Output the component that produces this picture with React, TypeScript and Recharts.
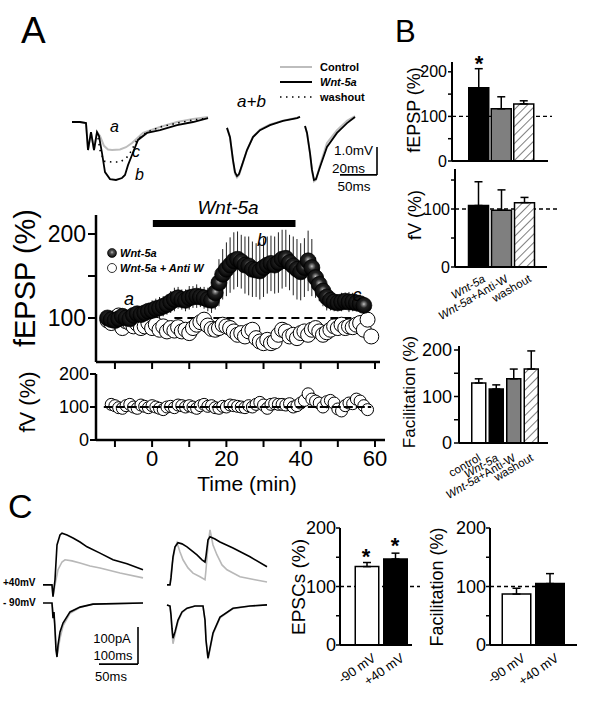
import React from 'react';
import {
  LineChart,
  Line,
  ScatterChart,
  Scatter,
  BarChart,
  Bar,
  Cell,
  XAxis,
  YAxis,
  ErrorBar,
  ReferenceLine,
} from 'recharts';

const FONT = '"Liberation Sans", Arial, sans-serif';

// ---------- A: single fEPSP traces (ms, mV) ----------
const wntTraceMs = [0, 4, 7, 8, 9.5, 11, 12.5, 13.5, 15, 16.5, 19, 22, 25, 26.5, 28, 30, 33, 37.5, 44, 52.5, 60.5, 68];
const wntTraceMv = [0, 0, -0.04, -1.0, -0.36, -1.0, -0.36, -0.5, -1.11, -1.79, -2.04, -2.07, -2.0, -1.89, -1.54, -1.18, -0.64, -0.39, -0.29, -0.11, 0, 0.14];
const ctrlTraceMs = [0, 4, 7, 8, 9.5, 11, 12.5, 14, 16, 18, 20, 24, 27, 30, 35.5, 44, 52.5, 60.5, 68];
const ctrlTraceMv = [0, 0, -0.04, -1.0, -0.36, -1.0, -0.36, -0.5, -0.85, -0.98, -1.0, -0.98, -0.9, -0.75, -0.39, -0.18, 0, 0.11, 0.18];
const washTraceMs = [12.5, 14, 16, 20, 24, 27, 29, 32.5, 37.5, 44, 52.5, 60.5, 68];
const washTraceMv = [-0.36, -1.0, -1.4, -1.43, -1.43, -1.3, -1.11, -0.64, -0.36, -0.18, -0.04, 0.07, 0.14];

// paired pulse (a+b)
const pairMs = [0, 1.5, 2.5, 4, 5.5, 6.5, 7.5, 8.5, 10, 12.5, 15.5, 19, 24, 30.5, 37.5, 39, 40.5, 41.5, 42.5, 44, 45, 46, 47, 49, 52.5, 57.5, 62.5, 66.5];
const pairWntMv = [0.04, null, -0.21, -0.54, -1.36, -1.79, -1.93, -1.86, -1.54, -1.0, -0.54, -0.29, -0.11, 0.04, 0.14, 0.18, null, -0.14, -0.39, -1.11, -1.71, -2.07, -2.04, -1.61, -0.89, -0.39, -0.04, 0.18];
const pairCtrlMv = [0.04, null, -0.21, -0.54, -1.4, -1.85, -1.98, -1.9, -1.56, -1.0, -0.52, -0.27, -0.09, 0.05, 0.15, 0.19, null, -0.14, -0.39, -1.13, -1.75, -2.12, -2.07, -1.55, -0.75, -0.29, 0.04, 0.21];

// ---------- A: time course (% of baseline) ----------
const wntMinutes = [-12, -11, -10, -9, -8, -7, -6, -5, -4, -3, -2, -1, 0, 1, 2, 3, 4, 5, 6, 7, 8, 9, 10, 11, 12, 13, 14, 15, 16, 17, 18, 19, 20, 21, 22, 23, 24, 25, 26, 27, 28, 29, 30, 31, 32, 33, 34, 35, 36, 37, 38, 39, 40, 41, 42, 43, 44, 45, 46, 47, 48, 49, 50, 51, 52, 53, 54, 55, 56, 57];
const wntFepsp = [100, 98, 97, 99, 102, 100, 99, 103, 105, 104, 106, 108, 109, 111, 112, 114, 116, 119, 122, 124, 122, 121, 124, 125, 126, 125, 124, 122, 121, 130, 142, 152, 158, 163, 168, 170, 167, 163, 162, 158, 157, 156, 160, 163, 165, 163, 166, 170, 171, 166, 162, 158, 155, 160, 168, 160, 148, 140, 132, 125, 121, 119, 118, 119, 120, 119, 119, 118, 117, 115];
const wntSem = [8, 8, 7, 8, 9, 8, 8, 9, 8, 9, 10, 10, 12, 12, 13, 12, 12, 13, 14, 13, 12, 13, 14, 13, 14, 12, 13, 14, 15, 20, 28, 30, 32, 33, 34, 33, 32, 34, 35, 33, 32, 34, 35, 34, 33, 34, 36, 35, 34, 33, 35, 36, 34, 35, 36, 34, 24, 20, 18, 16, 12, 11, 10, 11, 10, 12, 11, 10, 11, 10];

const antiMinutes = [-12, -11, -10, -9, -8, -7, -6, -5, -4, -3, -2, -1, 0, 1, 2, 3, 4, 5, 6, 7, 8, 9, 10, 11, 12, 13, 14, 15, 16, 17, 18, 19, 20, 21, 22, 23, 24, 25, 26, 27, 28, 29, 30, 31, 32, 33, 34, 35, 36, 37, 38, 39, 40, 41, 42, 43, 44, 45, 46, 47, 48, 49, 50, 51, 52, 53, 54, 55, 56, 57, 58, 59];
const antiFepsp = [97, 94, 100, 103, 88, 96, 94, 90, 93, 88, 90, 94, 88, 92, 86, 90, 84, 88, 85, 89, 84, 86, 82, 88, 92, 95, 98, 91, 87, 86, 88, 92, 90, 88, 84, 80, 82, 78, 84, 86, 76, 72, 70, 74, 70, 72, 80, 86, 84, 78, 80, 76, 82, 84, 80, 86, 88, 84, 80, 83, 86, 90, 88, 92, 88, 90, 89, 92, 94, 86, 98, 78];
const antiSem = [5, 6, 5, 5, 6, 5, 5, 6, 5, 5, 6, 5, 5, 6, 5, 5, 6, 5, 5, 6, 5, 5, 6, 5, 5, 6, 5, 5, 6, 5, 5, 6, 5, 5, 6, 5, 5, 6, 5, 5, 6, 5, 5, 6, 5, 5, 6, 5, 5, 6, 5, 5, 6, 5, 5, 6, 5, 5, 6, 5, 5, 6, 5, 5, 6, 5, 5, 6, 5, 5, 6, 7];

const fvMinutes = [-11, -10, -9, -8, -7, -6, -5, -4, -3, -2, -1, 0, 1, 2, 3, 4, 5, 6, 7, 8, 9, 10, 11, 12, 13, 14, 15, 16, 17, 18, 19, 20, 21, 22, 23, 24, 25, 26, 27, 28, 29, 30, 31, 32, 33, 34, 35, 36, 37, 38, 39, 40, 41, 42, 43, 44, 45, 46, 47, 48, 49, 50, 51, 52, 53, 54, 55, 56, 57, 58];
const fvPercent = [108, 104, 98, 96, 104, 108, 100, 96, 106, 102, 98, 104, 100, 96, 92, 100, 102, 98, 106, 104, 100, 104, 100, 96, 104, 108, 102, 104, 98, 96, 102, 100, 106, 104, 102, 100, 98, 104, 100, 108, 114, 106, 96, 108, 110, 108, 108, 106, 110, 100, 104, 112, 120, 140, 124, 118, 112, 100, 116, 120, 112, 94, 88, 104, 112, 110, 124, 118, 104, 92];
const fvSem = [5, 6, 5, 6, 5, 6, 5, 6, 5, 6, 5, 6, 5, 6, 5, 6, 5, 6, 5, 6, 5, 6, 5, 6, 5, 6, 5, 6, 5, 6, 5, 6, 5, 6, 5, 6, 5, 6, 5, 6, 5, 6, 5, 6, 5, 6, 5, 6, 5, 6, 5, 6, 5, 10, 6, 5, 6, 5, 6, 5, 6, 5, 6, 5, 6, 5, 6, 5, 6, 8];
const minuteTicks = [-10, 0, 10, 20, 30, 40, 50, 60];

// ---------- B: summary bars ----------
const bGroups = ['Wnt-5a', 'Wnt-5a+Anti-W', 'washout'];
const bFepspMean = [164, 117, 128];
const bFepspSem = [43, 27, 7];
const bFvMean = [106, 98, 111];
const bFvSem = [41, 35, 9];
const facGroups = ['control', 'Wnt-5a', 'Wnt-5a+Anti-W', 'washout'];
const facMean = [129, 116, 138, 159];
const facSem = [9, 9, 21, 39];

// ---------- C: EPSC traces (ms, pA) ----------
const c1PosMs = [0, 22.5, 25, 30, 35, 42.5, 47.5, 60, 75, 92.5, 110, 142.5, 175, 210, 250];
const c1PosWnt = [0, 0, -32, 14, 108, 135, 140, 135, 127, 116, 103, 86, 68, 57, 41];
const c1PosCtrlMs = [22.5, 25, 30, 37.5, 47.5, 55, 72.5, 92.5, 117.5, 142.5, 192.5, 250];
const c1PosCtrl = [0, -32, 0, 41, 62, 68, 65, 59, 51, 46, 32, 19];
const c1NegMs = [0, 22.5, 25, 27.5, 30, 32.5, 35, 37.5, 42.5, 50, 67.5, 92.5, 125, 250];
const c1NegWnt = [0, 0, -41, -24, -73, -127, -146, -114, -78, -54, -24, -11, -3, 0];
const c1NegCtrlMs = [22.5, 30, 32.5, 35, 37.5, 42.5, 50, 67.5, 92.5, 125, 250];
const c1NegCtrl = [0, -60, -115, -140, -128, -95, -62, -28, -12, -3, 0];

const c2PosMs = [5, 12.5, 15, 20, 25, 32.5, 42.5, 55, 67.5, 80, 92.5, 100, 102.5, 107.5, 112.5, 125, 137.5, 170, 212.5, 255];
const c2PosWnt = [0, 0, 19, 76, 103, 114, 111, 103, 92, 81, 68, 62, 78, 122, 130, 124, 116, 100, 76, 49];
const c2PosCtrlMs = [12.5, 17.5, 25, 30, 37.5, 45, 57.5, 70, 87.5, 100, 102.5, 107.5, 112.5, 120, 130, 142.5, 155, 187.5, 225, 255];
const c2PosCtrl = [0, 54, 100, 114, 89, 68, 46, 32, 22, 14, 41, 108, 149, 108, 81, 54, 41, 22, 14, 8];
const c2NegMs = [5, 12.5, 15, 17.5, 20, 25, 32.5, 42.5, 55, 75, 95, 100, 102.5, 107.5, 112.5, 120, 137.5, 170, 212.5, 255];
const c2NegWnt = [-5, -8, -32, -68, -95, -78, -46, -24, -14, -8, -8, -46, -100, -149, -122, -81, -38, -14, -8, -5];
const c2NegCtrl = [-5, -8, -35, -80, -110, -85, -50, -26, -15, -8, -8, -46, -100, -152, -126, -84, -40, -15, -8, -5];

// ---------- C: summary bars ----------
const cHolding = ['-90 mV', '+40 mV'];
const cEpscMean = [134, 147];
const cEpscSem = [7, 10];
const cFacMean = [87, 105];
const cFacSem = [10, 17];

const pts = (xs: number[], ys: (number | null)[]) => xs.map((t, i) => ({ t, v: ys[i] }));
const scat = (xs: number[], ys: number[], es: number[]) => xs.map((t, i) => ({ t, v: ys[i], e: es[i] }));
const bars = (names: string[], m: number[], e: number[]) => names.map((name, i) => ({ name, mean: m[i], err: [0, e[i]] }));

type Box = { x: number; y: number; w: number; h: number; yw: number; xh: number };
function place(b: Box) {
  const pad = { top: 12, right: 12, bottom: 40, left: 0 };
  return {
    style: { position: 'absolute' as const, left: b.x - b.yw, top: b.y - pad.top },
    width: b.yw + b.w + pad.right,
    height: pad.top + b.h + b.xh + pad.bottom,
    margin: pad,
  };
}

const axisLine = (w: number) => ({ stroke: '#000', strokeWidth: w });
const noAnim = { isAnimationActive: false, dot: false, type: 'linear' as const };

const Sphere = (p: any) => (
  <circle cx={p.cx} cy={p.cy} r={8} fill="url(#sphereGrad)" stroke="#000" strokeWidth={0.7} />
);
const ring = (r: number) => (p: any) => <circle cx={p.cx} cy={p.cy} r={r} fill="#fff" stroke="#000" strokeWidth={1} />;

function SlantTick(props: any) {
  const { x, y, payload, dx, dy, size, angle } = props;
  const label = String(payload.value);
  const it = label.startsWith('Wnt-5a');
  return (
    <text transform={`translate(${x + dx},${y + dy}) rotate(${angle})`} textAnchor="end" fontSize={size} fill="#000">
      {it ? (
        <>
          <tspan fontStyle="italic">Wnt-5a</tspan>
          <tspan>{label.slice(6)}</tspan>
        </>
      ) : (
        label
      )}
    </text>
  );
}

function Hatch({ id }: { id: string }) {
  return (
    <defs>
      <pattern id={id} patternUnits="userSpaceOnUse" width={6} height={6} patternTransform="rotate(45)">
        <rect width={6} height={6} fill="#fff" />
        <line x1={0} y1={0} x2={0} y2={6} stroke="#000" strokeWidth={1} />
      </pattern>
    </defs>
  );
}

// dashed 100 % line, drawn in a chart underneath so the bars cover it
function BaseLine100({ box, data, top, lineW }: { box: Box; data: any[]; top: number; lineW: number }) {
  const p = place({ ...box, w: lineW });
  const m = { ...p.margin, left: box.yw, bottom: p.margin.bottom + box.xh };
  return (
    <div style={p.style}>
      <BarChart width={p.width} height={p.height} margin={m} data={data}>
        <XAxis dataKey="name" hide />
        <YAxis type="number" domain={[0, top]} hide allowDataOverflow />
        <ReferenceLine y={100} stroke="#000" strokeWidth={1.3} strokeDasharray="4 3" />
      </BarChart>
    </div>
  );
}

function SummaryBars(props: {
  box: Box; data: any[]; fills: string[]; top: number; size: number; pad: [number, number];
  font: number; tickSize: number; tickMargin: number; hatchId?: string; slant?: any; lineW?: number;
}) {
  const { box, data, fills, top, size, pad, font, tickSize, tickMargin, hatchId, slant, lineW } = props;
  const p = place(box);
  return (
    <>
      {lineW !== undefined && <BaseLine100 box={box} data={data} top={top} lineW={lineW} />}
      <div style={p.style}>
        <BarChart width={p.width} height={p.height} margin={p.margin} data={data} barCategoryGap={0}>
          {hatchId && <Hatch id={hatchId} />}
          <XAxis
            dataKey="name"
            padding={{ left: pad[0], right: pad[1] }}
            height={box.xh}
            tickLine={false}
            tickSize={0}
            tickMargin={0}
            interval={0}
            axisLine={axisLine(2)}
            tick={slant ? (t: any) => <SlantTick {...t} {...slant} /> : false}
          />
          <YAxis
            type="number"
            domain={[0, top]}
            ticks={[0, 50, 100, 150, 200].filter((v) => v <= top)}
            tickFormatter={(v: number) => (v % 100 === 0 ? String(v) : '')}
            width={box.yw}
            tickSize={tickSize}
            tickMargin={tickMargin}
            interval={0}
            tick={{ fontSize: font, fill: '#000' }}
            axisLine={axisLine(2)}
            tickLine={{ stroke: '#000', strokeWidth: 1.5 }}
            allowDataOverflow
          />
          <Bar dataKey="mean" barSize={size} stroke="#000" strokeWidth={1.5} isAnimationActive={false}>
            {data.map((d, i) => (
              <Cell key={d.name} fill={fills[i]} />
            ))}
            <ErrorBar dataKey="err" width={4} stroke="#000" strokeWidth={1.5} direction="y" />
          </Bar>
        </BarChart>
      </div>
    </>
  );
}

const BOX: Record<string, Box> = {
  traceA: { x: 70, y: 105, w: 142, h: 80, yw: 0, xh: 0 },
  pairA: { x: 220, y: 105, w: 162, h: 80, yw: 0, xh: 0 },
  fepsp: { x: 96, y: 215, w: 284, h: 147, yw: 60, xh: 10 },
  fv: { x: 96, y: 374, w: 289, h: 66, yw: 60, xh: 40 },
  bFepsp: { x: 452, y: 62, w: 96, h: 99, yw: 40, xh: 4 },
  bFv: { x: 455, y: 169, w: 92, h: 98, yw: 40, xh: 50 },
  bFac: { x: 459, y: 346, w: 89, h: 97, yw: 40, xh: 60 },
  cTrace1: { x: 40, y: 525, w: 108, h: 145, yw: 0, xh: 0 },
  cTrace2: { x: 160, y: 525, w: 112, h: 145, yw: 0, xh: 0 },
  cEpsc: { x: 340, y: 528, w: 72, h: 117, yw: 36, xh: 50 },
  cFac: { x: 490, y: 528, w: 87, h: 117, yw: 40, xh: 50 },
};

function TraceA() {
  const p = place(BOX.traceA);
  return (
    <div style={p.style}>
      <LineChart width={p.width} height={p.height} margin={p.margin}>
        <XAxis type="number" dataKey="t" domain={[-1, 70]} hide allowDataOverflow />
        <YAxis type="number" domain={[-2.25, 0.607]} hide allowDataOverflow />
        <Line data={pts(ctrlTraceMs, ctrlTraceMv)} dataKey="v" stroke="#bdbdbd" strokeWidth={2} {...noAnim} />
        <Line data={pts(washTraceMs, washTraceMv)} dataKey="v" stroke="#000" strokeWidth={1.6} strokeDasharray="1.5 4.5" {...noAnim} />
        <Line data={pts(wntTraceMs, wntTraceMv)} dataKey="v" stroke="#000" strokeWidth={1.8} {...noAnim} />
      </LineChart>
    </div>
  );
}

function PairA() {
  const p = place(BOX.pairA);
  return (
    <div style={p.style}>
      <LineChart width={p.width} height={p.height} margin={p.margin}>
        <XAxis type="number" dataKey="t" domain={[-1, 80]} hide allowDataOverflow />
        <YAxis type="number" domain={[-2.25, 0.607]} hide allowDataOverflow />
        <Line data={pts(pairMs, pairCtrlMv)} dataKey="v" stroke="#bdbdbd" strokeWidth={2} connectNulls={false} {...noAnim} />
        <Line data={pts(pairMs, pairWntMv)} dataKey="v" stroke="#000" strokeWidth={1.8} connectNulls={false} {...noAnim} />
        {/* scale bar: 1.0 mV / 20 ms */}
        <ReferenceLine segment={[{ x: 77.5, y: -0.89 }, { x: 77.5, y: -1.89 }]} stroke="#000" strokeWidth={1.6} />
        <ReferenceLine segment={[{ x: 59, y: -1.89 }, { x: 77.5, y: -1.89 }]} stroke="#000" strokeWidth={1.6} />
      </LineChart>
    </div>
  );
}

function TimeCourse() {
  const p = place(BOX.fepsp);
  return (
    <div style={p.style}>
      <ScatterChart width={p.width} height={p.height} margin={p.margin}>
        <defs>
          <radialGradient id="sphereGrad" cx="0.5" cy="0.42" r="0.58">
            <stop offset="0%" stopColor="#c4c4c4" />
            <stop offset="16%" stopColor="#7a7a7a" />
            <stop offset="42%" stopColor="#222" />
            <stop offset="100%" stopColor="#000" />
          </radialGradient>
        </defs>
        <XAxis
          type="number"
          dataKey="t"
          domain={[-15.1, 61.35]}
          ticks={minuteTicks}
          tickFormatter={() => ''}
          tickSize={7}
          height={BOX.fepsp.xh}
          interval={0}
          axisLine={axisLine(2.5)}
          tickLine={{ stroke: '#000', strokeWidth: 2 }}
          allowDataOverflow
        />
        <YAxis
          type="number"
          dataKey="v"
          domain={[47.6, 222.6]}
          ticks={[100, 150, 200]}
          tickFormatter={(v: number) => (v === 150 ? '' : String(v))}
          width={BOX.fepsp.yw}
          tickSize={8}
          tickMargin={2}
          interval={0}
          tick={{ fontSize: 23, fill: '#000' }}
          axisLine={axisLine(2.5)}
          tickLine={{ stroke: '#000', strokeWidth: 2 }}
          allowDataOverflow
        />
        <ReferenceLine segment={[{ x: 0.2, y: 212.5 }, { x: 38.6, y: 212.5 }]} stroke="#000" strokeWidth={7} />
        <ReferenceLine segment={[{ x: 6, y: 100 }, { x: 57, y: 100 }]} stroke="#000" strokeWidth={2} strokeDasharray="8 5" />
        <Scatter data={scat(antiMinutes, antiFepsp, antiSem)} dataKey="v" shape={ring(7.5)} isAnimationActive={false}>
          <ErrorBar dataKey="e" direction="y" width={0} stroke="#555" strokeWidth={1} />
        </Scatter>
        <Scatter data={scat(wntMinutes, wntFepsp, wntSem)} dataKey="v" shape={Sphere} isAnimationActive={false}>
          <ErrorBar dataKey="e" direction="y" width={0} stroke="#222" strokeWidth={1} />
        </Scatter>
      </ScatterChart>
    </div>
  );
}

const fvTimeAxis = {
  type: 'number' as const,
  dataKey: 't',
  domain: [-15.1, 62.7] as [number, number],
  allowDataOverflow: true,
};

function FiberVolley() {
  const p = place(BOX.fv);
  return (
    <div style={p.style}>
      <ScatterChart width={p.width} height={p.height} margin={p.margin}>
        <XAxis
          {...fvTimeAxis}
          ticks={minuteTicks}
          tickFormatter={(v: number) => (v % 20 === 0 ? String(v) : '')}
          tickSize={7}
          tickMargin={3}
          height={BOX.fv.xh}
          interval={0}
          tick={{ fontSize: 22, fill: '#000' }}
          axisLine={axisLine(2.5)}
          tickLine={{ stroke: '#000', strokeWidth: 2 }}
        />
        <YAxis
          type="number"
          dataKey="v"
          domain={[0, 200]}
          ticks={[0, 100, 200]}
          width={BOX.fv.yw}
          tickSize={6}
          tickMargin={1}
          interval={0}
          tick={{ fontSize: 18, fill: '#000' }}
          axisLine={axisLine(2.5)}
          tickLine={{ stroke: '#000', strokeWidth: 2 }}
          allowDataOverflow
        />
        <Scatter data={scat(fvMinutes, fvPercent, fvSem)} dataKey="v" shape={ring(6)} isAnimationActive={false}>
          <ErrorBar dataKey="e" direction="y" width={0} stroke="#555" strokeWidth={1} />
        </Scatter>
      </ScatterChart>
    </div>
  );
}

// the 100 % line of the fV panel runs over the circles, so it sits in a chart on top
function FiberVolleyLine() {
  const p = place(BOX.fv);
  const m = { ...p.margin, left: BOX.fv.yw, bottom: p.margin.bottom + BOX.fv.xh };
  return (
    <div style={p.style}>
      <ScatterChart width={p.width} height={p.height} margin={m}>
        <XAxis {...fvTimeAxis} hide />
        <YAxis type="number" dataKey="v" domain={[0, 200]} hide allowDataOverflow />
        <ReferenceLine segment={[{ x: -13, y: 100 }, { x: 59, y: 100 }]} stroke="#000" strokeWidth={1.8} strokeDasharray="9 3" />
      </ScatterChart>
    </div>
  );
}

function CTrace(props: { box: Box; domain: [number, number]; children?: React.ReactNode }) {
  const p = place(props.box);
  return (
    <div style={p.style}>
      <LineChart width={p.width} height={p.height} margin={p.margin}>
        <XAxis type="number" dataKey="t" domain={props.domain} hide allowDataOverflow />
        <YAxis yAxisId="pos" type="number" domain={[-230, 162]} hide allowDataOverflow />
        <YAxis yAxisId="neg" type="number" domain={[-181, 211]} hide allowDataOverflow />
        {props.children}
      </LineChart>
    </div>
  );
}

function Overlay() {
  const t = { fill: '#000' };
  return (
    <svg width={600} height={714} style={{ position: 'absolute', left: 0, top: 0, pointerEvents: 'none' }} fontFamily={FONT}>
      <defs>
        <radialGradient id="legendSphere" cx="0.5" cy="0.42" r="0.6">
          <stop offset="0%" stopColor="#bbb" />
          <stop offset="30%" stopColor="#555" />
          <stop offset="100%" stopColor="#000" />
        </radialGradient>
      </defs>
      <text x={21} y={43} fontSize={37} {...t}>A</text>
      <text x={395} y={42} fontSize={31} {...t}>B</text>
      <text x={8} y={518} fontSize={34} {...t}>C</text>

      {/* trace legend */}
      <line x1={280} y1={67} x2={312} y2={67} stroke="#bdbdbd" strokeWidth={2} />
      <text x={320} y={67} fontSize={11} fontWeight="bold" dominantBaseline="central">Control</text>
      <line x1={280} y1={82} x2={312} y2={82} stroke="#000" strokeWidth={2} />
      <text x={320} y={82} fontSize={11} fontWeight="bold" fontStyle="italic" dominantBaseline="central">Wnt-5a</text>
      <line x1={280} y1={97} x2={312} y2={97} stroke="#000" strokeWidth={1.6} strokeDasharray="1.5 4.5" />
      <text x={320} y={97} fontSize={11} fontWeight="bold" dominantBaseline="central">washout</text>
      <text x={237} y={107} fontSize={17} fontStyle="italic">a+b</text>
      <text x={110} y={132} fontSize={16} fontStyle="italic">a</text>
      <text x={132} y={157} fontSize={16} fontStyle="italic">c</text>
      <text x={135} y={180} fontSize={16} fontStyle="italic">b</text>
      <text x={373} y={150} fontSize={13.5} textAnchor="end" dominantBaseline="central">1.0mV</text>
      <text x={365} y={168} fontSize={13.5} textAnchor="end" dominantBaseline="central">20ms</text>
      <text x={354} y={186} fontSize={13.5} textAnchor="middle" dominantBaseline="central">50ms</text>

      {/* time course annotations */}
      <text x={228} y={207} fontSize={19} fontStyle="italic" textAnchor="middle" dominantBaseline="central">Wnt-5a</text>
      <circle cx={112} cy={253} r={4.5} fill="url(#legendSphere)" stroke="#000" strokeWidth={0.6} />
      <text x={120} y={253} fontSize={11} fontWeight="bold" fontStyle="italic" dominantBaseline="central">Wnt-5a</text>
      <circle cx={112} cy={268} r={4.5} fill="#fff" stroke="#000" strokeWidth={0.8} />
      <text x={120} y={268} fontSize={11} fontWeight="bold" fontStyle="italic" dominantBaseline="central">Wnt-5a + Anti W</text>
      <text x={129} y={299} fontSize={18} fontStyle="italic" textAnchor="middle" dominantBaseline="central">a</text>
      <text x={262} y={240} fontSize={18} fontStyle="italic" textAnchor="middle" dominantBaseline="central">b</text>
      <text x={357} y={295} fontSize={18} fontStyle="italic" textAnchor="middle" dominantBaseline="central">c</text>
      <text transform="translate(25,278) rotate(-90)" fontSize={29} textAnchor="middle" dominantBaseline="central">fEPSP (%)</text>
      <text transform="translate(27,402) rotate(-90)" fontSize={22} textAnchor="middle" dominantBaseline="central">fV (%)</text>
      <text x={247} y={483} fontSize={21} textAnchor="middle" dominantBaseline="central">Time (min)</text>

      {/* B titles */}
      <text transform="translate(414,110) rotate(-90)" fontSize={18} textAnchor="middle" dominantBaseline="central">fEPSP (%)</text>
      <text transform="translate(415,215) rotate(-90)" fontSize={18} textAnchor="middle" dominantBaseline="central">fV (%)</text>
      <text transform="translate(409,392) rotate(-90)" fontSize={17} textAnchor="middle" dominantBaseline="central">Facilitation (%)</text>
      <text x={479} y={71} fontSize={22} fontWeight="bold" textAnchor="middle">*</text>

      {/* C annotations */}
      <text x={3} y={582} fontSize={10} fontWeight="bold" dominantBaseline="central">+40mV</text>
      <text x={3} y={602} fontSize={10} fontWeight="bold" dominantBaseline="central">- 90mV</text>
      <text x={112} y={638} fontSize={13} textAnchor="middle" dominantBaseline="central">100pA</text>
      <text x={113} y={655} fontSize={13} textAnchor="middle" dominantBaseline="central">100ms</text>
      <text x={111} y={676} fontSize={13} textAnchor="middle" dominantBaseline="central">50ms</text>
      <text transform="translate(298,587) rotate(-90)" fontSize={19} textAnchor="middle" dominantBaseline="central">EPSCs (%)</text>
      <text transform="translate(437,587) rotate(-90)" fontSize={18} textAnchor="middle" dominantBaseline="central">Facilitation (%)</text>
      <text x={366} y={564} fontSize={22} fontWeight="bold" textAnchor="middle">*</text>
      <text x={395} y={553} fontSize={22} fontWeight="bold" textAnchor="middle">*</text>
    </svg>
  );
}

export default function App() {
  const line = (w: number) => ({ strokeWidth: w, connectNulls: false, ...noAnim });
  return (
    <div style={{ position: 'absolute', left: 0, top: 0, width: 600, height: 714, background: '#fff', fontFamily: FONT, overflow: 'hidden' }}>
      <TraceA />
      <PairA />
      <TimeCourse />
      <FiberVolley />
      <FiberVolleyLine />

      <SummaryBars
        box={BOX.bFepsp}
        data={bars(bGroups, bFepspMean, bFepspSem)}
        fills={['#000', '#7f7f7f', 'url(#hatchB1)']}
        hatchId="hatchB1"
        top={222}
        size={20}
        pad={[15.75, 12.75]}
        font={16}
        tickSize={4}
        tickMargin={1}
        lineW={100}
      />
      <SummaryBars
        box={BOX.bFv}
        data={bars(bGroups, bFvMean, bFvSem)}
        fills={['#000', '#7f7f7f', 'url(#hatchB2)']}
        hatchId="hatchB2"
        top={169}
        size={20}
        pad={[11.5, 11.5]}
        font={16}
        tickSize={4}
        tickMargin={1}
        slant={{ dx: 8, dy: 14, size: 11.5, angle: -30 }}
        lineW={103}
      />
      <SummaryBars
        box={BOX.bFac}
        data={bars(facGroups, facMean, facSem)}
        fills={['#fff', '#000', '#7f7f7f', 'url(#hatchB3)']}
        hatchId="hatchB3"
        top={208.6}
        size={14}
        pad={[10.75, 8.25]}
        font={18}
        tickSize={5}
        tickMargin={2}
        slant={{ dx: 3, dy: 17, size: 11.5, angle: -30 }}
      />

      <CTrace box={BOX.cTrace1} domain={[-7.5, 262.5]}>
        <Line yAxisId="pos" data={pts(c1PosCtrlMs, c1PosCtrl)} dataKey="v" stroke="#b8b8b8" {...line(1.6)} />
        <Line yAxisId="pos" data={pts(c1PosMs, c1PosWnt)} dataKey="v" stroke="#000" {...line(1.6)} />
        <Line yAxisId="neg" data={pts(c1NegCtrlMs, c1NegCtrl)} dataKey="v" stroke="#b8b8b8" {...line(1.6)} />
        <Line yAxisId="neg" data={pts(c1NegMs, c1NegWnt)} dataKey="v" stroke="#000" {...line(1.6)} />
        <ReferenceLine yAxisId="neg" segment={[{ x: 237.5, y: -65 }, { x: 237.5, y: -165 }]} stroke="#000" strokeWidth={1.6} />
        <ReferenceLine yAxisId="neg" segment={[{ x: 140, y: -165 }, { x: 237.5, y: -165 }]} stroke="#000" strokeWidth={1.6} />
      </CTrace>
      <CTrace box={BOX.cTrace2} domain={[-12.5, 267.5]}>
        <Line yAxisId="pos" data={pts(c2PosCtrlMs, c2PosCtrl)} dataKey="v" stroke="#b8b8b8" {...line(1.6)} />
        <Line yAxisId="pos" data={pts(c2PosMs, c2PosWnt)} dataKey="v" stroke="#000" {...line(1.6)} />
        <Line yAxisId="neg" data={pts(c2NegMs, c2NegCtrl)} dataKey="v" stroke="#b8b8b8" {...line(1.6)} />
        <Line yAxisId="neg" data={pts(c2NegMs, c2NegWnt)} dataKey="v" stroke="#000" {...line(1.6)} />
      </CTrace>

      <SummaryBars
        box={BOX.cEpsc}
        data={bars(cHolding, cEpscMean, cEpscSem)}
        fills={['#fff', '#000']}
        top={200}
        size={23.5}
        pad={[12.25, 2.75]}
        font={18}
        tickSize={4}
        tickMargin={0}
        slant={{ dx: 10, dy: 15, size: 13, angle: -35 }}
        lineW={80}
      />
      <SummaryBars
        box={BOX.cFac}
        data={bars(cHolding, cFacMean, cFacSem)}
        fills={['#fff', '#000']}
        top={200}
        size={28.5}
        pad={[9.25, 10.75]}
        font={18}
        tickSize={4}
        tickMargin={0}
        slant={{ dx: 10, dy: 15, size: 13, angle: -35 }}
        lineW={75}
      />

      <Overlay />
    </div>
  );
}
